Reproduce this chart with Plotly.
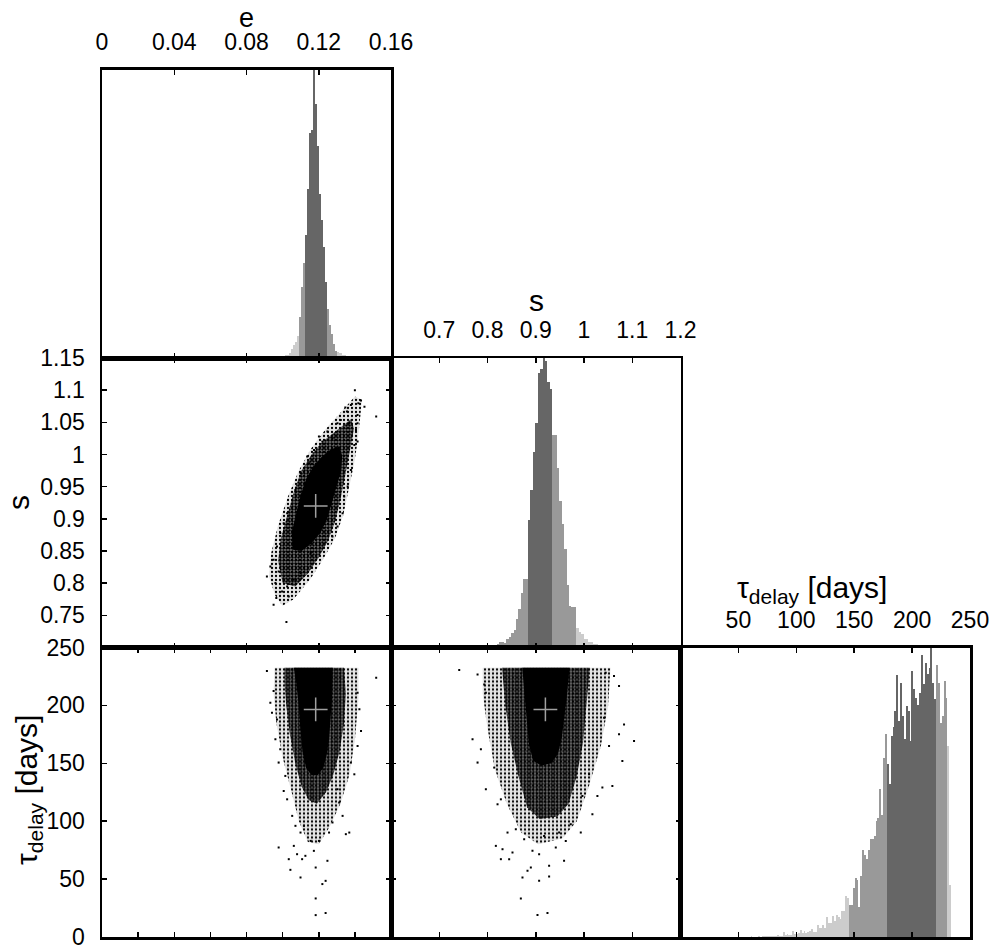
import plotly.graph_objects as go

# ---------------- data ----------------
# e histogram (normalised counts), uniform bins
E_BIN_START = 0.09912
E_BIN_WIDTH = 0.0011158
e_counts = [0.004, 0.008, 0.010, 0.012, 0.018, 0.030, 0.045, 0.055, 0.078,
            0.142, 0.246, 0.329,
            0.425, 0.587, 0.780, 0.790, 1.000, 0.880, 0.734, 0.570, 0.477, 0.385, 0.263,
            0.171, 0.113, 0.084, 0.050, 0.026,
            0.020, 0.016, 0.012, 0.010, 0.008, 0.006, 0.004, 0.003, 0.002]
E_BANDS = [0.10925, 0.11260, 0.12488, 0.13046]

# s histogram
S_BIN_START = 0.799
S_BIN_WIDTH = 0.005
s_counts = [0.008, 0.008, 0.010, 0.010, 0.012, 0.020, 0.020, 0.014, 0.030, 0.037,
            0.050, 0.062, 0.098, 0.132, 0.190, 0.235, 0.235, 0.440, 0.545, 0.674,
            0.775, 0.948, 0.963, 1.000, 0.990, 0.917, 0.894, 0.735, 0.735, 0.619,
            0.507, 0.426, 0.340, 0.217, 0.142, 0.140, 0.140, 0.066, 0.052, 0.046,
            0.029, 0.029, 0.018, 0.018, 0.012, 0.012, 0.008, 0.006, 0.004, 0.003, 0.002]
S_BANDS = [0.79, 0.884, 0.934, 0.984]

# tau_delay histogram
T_BIN_START = 55.575
T_BIN_WIDTH = 1.635
t_counts = [0.001, 0.001, 0.001, 0.002, 0.001, 0.001, 0.001, 0.002, 0.001, 0.002,
            0.002, 0.002, 0.004, 0.002, 0.003, 0.003, 0.004, 0.008, 0.004, 0.004,
            0.017, 0.006, 0.010, 0.008, 0.008, 0.021, 0.010, 0.010, 0.015, 0.025,
            0.015, 0.021, 0.015, 0.019, 0.020, 0.028, 0.019, 0.019, 0.043, 0.031,
            0.031, 0.043, 0.031, 0.068, 0.048, 0.048, 0.072, 0.054, 0.075, 0.069,
            0.062, 0.089, 0.089, 0.143, 0.135, 0.109, 0.109, 0.171, 0.204, 0.198,
            0.103, 0.210, 0.302, 0.283, 0.270, 0.300, 0.340, 0.340, 0.350, 0.400,
            0.410, 0.510, 0.420, 0.620, 0.700,
            0.596, 0.527, 0.696, 0.726, 0.780, 0.904, 0.746, 0.879, 0.763, 0.683,
            0.798, 0.780, 0.677, 0.919, 0.856, 0.827, 0.800, 0.844, 0.973, 0.873,
            0.948, 0.908, 0.930, 1.000, 0.879, 0.821, 0.939, 0.879, 0.740, 0.763,
            0.885, 0.827, 0.660, 0.181]
T_BANDS = [145.6, 178.2, 220.7, 230.5]

# best-fit values (grey crosses)
best_e = [0.1183]
best_s = [0.920]
best_t = [196.5]

# e-s cloud outlines
es_core_e = [0.1058, 0.1050, 0.1075, 0.1103, 0.1132, 0.1170, 0.1218, 0.1268, 0.1312, 0.1330,
             0.1325, 0.1300, 0.1272, 0.1245, 0.1208, 0.1160, 0.1105]
es_core_s = [0.852, 0.8778, 0.9088, 0.9398, 0.9632, 0.9813, 0.9968, 1.008, 1.012, 0.998,
             0.976, 0.9502, 0.9243, 0.8985, 0.8778, 0.8622, 0.8500]
es_inner_e = [0.1000, 0.0975, 0.0990, 0.1030, 0.1065, 0.1105, 0.1160, 0.1220, 0.1290, 0.1340,
              0.1380, 0.1395, 0.1370, 0.1345, 0.1320, 0.1290, 0.1250, 0.1200, 0.1140, 0.1070]
es_inner_s = [0.800, 0.835, 0.870, 0.910, 0.945, 0.975, 1.000, 1.020, 1.035, 1.045,
              1.055, 1.040, 1.000, 0.965, 0.930, 0.895, 0.865, 0.840, 0.815, 0.795]
es_outer_e = [0.0960, 0.0925, 0.0935, 0.0975, 0.1030, 0.1090, 0.1160, 0.1240, 0.1320, 0.1400,
              0.1440, 0.1430, 0.1415, 0.1395, 0.1370, 0.1335, 0.1290, 0.1230, 0.1150, 0.1060, 0.1000]
es_outer_s = [0.780, 0.810, 0.845, 0.890, 0.935, 0.975, 1.010, 1.040, 1.065, 1.090,
              1.085, 1.055, 1.020, 0.985, 0.950, 0.905, 0.870, 0.840, 0.805, 0.775, 0.765]
es_pts_e = [0.1400, 0.1434, 0.1419, 0.1378, 0.1347, 0.1356, 0.1518, 0.1415, 0.1322, 0.1369,
            0.1415, 0.1406, 0.1415, 0.1397, 0.1248, 0.1220, 0.1276, 0.0913, 0.0950, 0.0965,
            0.0997, 0.1025, 0.0960, 0.1021, 0.0932, 0.0978, 0.1006, 0.1034, 0.1062, 0.1099,
            0.0950, 0.0969, 0.1006, 0.1025, 0.1155, 0.1304, 0.1276, 0.1341, 0.1360, 0.1378,
            0.1332, 0.0987, 0.1071, 0.1099, 0.1136, 0.1174, 0.1146, 0.1201, 0.1304, 0.1453]
es_pts_s = [1.100, 1.0838, 1.0796, 1.0770, 1.0729, 1.0667, 1.0589, 1.0615, 1.0537, 1.0486,
            1.0486, 1.0382, 1.0201, 1.0149, 1.0356, 1.0201, 1.0253, 0.8105, 0.7665, 0.7768,
            0.7872, 0.7949, 0.8001, 0.7396, 0.8260, 0.8182, 0.8053, 0.7794, 0.8053, 0.8156,
            0.8364, 0.8570, 0.8933, 0.9088, 0.8467, 0.8881, 0.8726, 0.9347, 0.9502, 0.9761,
            0.9088, 0.8778, 0.9450, 0.9709, 0.9968, 1.0071, 0.9865, 1.0279, 1.0486, 1.0744]

# e-tau cloud outlines
et_core_e = [0.1062, 0.1278, 0.1275, 0.1268, 0.1258, 0.1245, 0.1225, 0.1195, 0.1160, 0.1130,
             0.1110, 0.1098, 0.1088, 0.1075]
et_core_t = [232.5, 232.5, 210, 190, 172, 158, 146, 140, 140, 146, 160, 180, 202, 220]
et_inner_e = [0.1010, 0.1340, 0.1350, 0.1340, 0.1315, 0.1280, 0.1240, 0.1190, 0.1145, 0.1105,
              0.1070, 0.1040, 0.1020, 0.1010]
et_inner_t = [232.5, 232.5, 210, 185, 160, 140, 125, 115, 118, 130, 150, 175, 200, 220]
et_outer_e = [0.0955, 0.1420, 0.1420, 0.1400, 0.1370, 0.1320, 0.1260, 0.1200, 0.1140, 0.1090,
              0.1050, 0.1000, 0.0965, 0.0950]
et_outer_t = [232.5, 232.5, 205, 170, 140, 115, 95, 80, 82, 100, 125, 155, 185, 210]
et_pts_e = [0.0913, 0.1518, 0.0950, 0.0941, 0.0960, 0.0978, 0.1015, 0.1025, 0.1053, 0.1434,
            0.1415, 0.1397, 0.1378, 0.1369, 0.1350, 0.1332, 0.1313, 0.0978, 0.1062, 0.1080,
            0.1034, 0.1126, 0.1173, 0.1248, 0.1108, 0.1183, 0.1043, 0.1099, 0.1238, 0.1220,
            0.1183, 0.1183, 0.1238, 0.1155, 0.1201, 0.1257, 0.1099, 0.1118, 0.1276, 0.1071,
            0.1304, 0.1006, 0.0987, 0.0969, 0.0932, 0.1415, 0.1425]
et_pts_t = [229.6, 223.9, 212.4, 193.7, 170.7, 150.6, 139.1, 118.9, 104.6, 177.9,
            164.9, 140.5, 150.6, 90.2, 88.8, 104.6, 116.1, 77.3, 78.7, 71.5,
            67.2, 70.1, 74.4, 65.8, 67.2, 60.0, 58.0, 51.4, 48.5, 45.7,
            33.3, 18.9, 20.7, 83.0, 83.0, 90.2, 90.2, 96.0, 98.9, 96.0,
            127.6, 126.1, 162.1, 187.9, 202.3, 210.9, 196.6]

# s-tau cloud outlines
st_core_s = [0.872, 0.970, 0.965, 0.959, 0.954, 0.946, 0.932, 0.912, 0.895, 0.886, 0.881, 0.877, 0.874]
st_core_t = [232.5, 232.5, 210, 190, 172, 158, 150, 148, 152, 166, 188, 210, 225]
st_inner_s = [0.830, 1.012, 1.005, 0.998, 0.985, 0.968, 0.945, 0.908, 0.882, 0.864, 0.848, 0.837]
st_inner_t = [232.5, 232.5, 200, 168, 139, 115, 104, 102, 112, 139, 168, 200]
st_outer_s = [0.790, 1.055, 1.050, 1.035, 1.010, 0.985, 0.955, 0.905, 0.870, 0.840, 0.815, 0.800, 0.790]
st_outer_t = [232.5, 232.5, 200, 165, 130, 100, 85, 80, 90, 115, 145, 180, 210]
st_pts_s = [0.7414, 0.7794, 0.7932, 0.7966, 0.7690, 0.7794, 0.7863, 0.7966, 0.8139, 0.8208,
            0.8277, 1.0450, 1.0622, 1.0726, 1.0830, 1.1037, 1.0795, 1.0588, 1.0381, 1.0278,
            1.0726, 1.0519, 1.0416, 0.9933, 0.9622, 0.8173, 0.8311, 0.8277, 0.8449, 0.8518,
            0.8932, 0.9070, 0.9415, 0.9587, 0.8898, 0.9277, 0.8829, 0.8725, 0.9070, 0.9277,
            0.8691, 0.9036, 0.9243, 0.8415, 0.8587, 0.9484, 0.9726, 0.8760, 0.9173, 1.0174,
            1.0105, 0.9967]
st_pts_t = [230.5, 226.7, 218.1, 210.9, 170.7, 150.6, 162.1, 127.6, 146.3, 114.6,
            118.9, 228.2, 225.3, 216.7, 183.6, 169.2, 152.0, 130.4, 129.0, 121.8,
            175.0, 164.9, 189.4, 90.2, 83.0, 78.7, 75.8, 67.2, 67.2, 73.0,
            74.4, 71.5, 77.3, 65.8, 60.0, 61.5, 57.2, 51.4, 48.5, 52.3,
            33.3, 18.9, 20.7, 90.2, 93.1, 90.2, 97.4, 84.5, 87.3, 106.0,
            140.5, 121.8]

# ---------------- styling ----------------
DARK, MED, LIGHT = "#666666", "#999999", "#cccccc"
FONT = "Liberation Sans, Arial, Helvetica, sans-serif"
TICKFONT = dict(family=FONT, size=23, color="black")
W, H = 997, 948

def px_x(v):
    return v / W

def px_y(v):
    return 1 - v / H

def shade(c, bands):
    lo1, lo2, hi2, hi1 = bands
    if lo2 <= c < hi2:
        return DARK
    if lo1 <= c < hi1:
        return MED
    return LIGHT

def hist_trace(start, width, counts, bands, xa, ya):
    centers = [start + (i + 0.5) * width for i in range(len(counts))]
    return go.Bar(x=centers, y=counts, width=width,
                  marker=dict(color=[shade(c, bands) for c in centers], line=dict(width=0)),
                  xaxis=xa, yaxis=ya, showlegend=False, hoverinfo="skip")

def poly(xs, ys, xa, ya, solid=False, bg="rgba(0,0,0,0)", size=4, solidity=0.3):
    kw = dict(x=xs + xs[:1], y=ys + ys[:1], mode="lines", line=dict(width=0),
              fill="toself", xaxis=xa, yaxis=ya, showlegend=False, hoverinfo="skip")
    if solid:
        kw["fillcolor"] = "black"
    else:
        kw["fillcolor"] = bg
        kw["fillpattern"] = dict(shape=".", fgcolor="black", bgcolor=bg,
                                 size=size, solidity=solidity, fillmode="replace")
    return go.Scatter(**kw)

def pts(xs, ys, xa, ya):
    return go.Scatter(x=xs, y=ys, mode="markers", xaxis=xa, yaxis=ya,
                      marker=dict(symbol="square", size=2, color="black", line=dict(width=0)),
                      showlegend=False, hoverinfo="skip")

def cross(xs, ys, xa, ya):
    return go.Scatter(x=xs, y=ys, mode="markers", xaxis=xa, yaxis=ya,
                      marker=dict(symbol="cross-thin-open", size=17, color="#a0a0a0",
                                  line=dict(color="#a0a0a0", width=1.5)),
                      showlegend=False, hoverinfo="skip")

fig = go.Figure()
# histograms
fig.add_trace(hist_trace(E_BIN_START, E_BIN_WIDTH, e_counts, E_BANDS, "x", "y"))
fig.add_trace(hist_trace(S_BIN_START, S_BIN_WIDTH, s_counts, S_BANDS, "x4", "y4"))
fig.add_trace(hist_trace(T_BIN_START, T_BIN_WIDTH, t_counts, T_BANDS, "x6", "y6"))

# clouds
for (ox, oy, ix, iy, cx, cy, px, py, bx, by, xa, ya) in [
    (es_outer_e, es_outer_s, es_inner_e, es_inner_s, es_core_e, es_core_s, es_pts_e, es_pts_s, best_e, best_s, "x2", "y2"),
    (et_outer_e, et_outer_t, et_inner_e, et_inner_t, et_core_e, et_core_t, et_pts_e, et_pts_t, best_e, best_t, "x3", "y3"),
    (st_outer_s, st_outer_t, st_inner_s, st_inner_t, st_core_s, st_core_t, st_pts_s, st_pts_t, best_s, best_t, "x5", "y5"),
]:
    fig.add_trace(poly(ox, oy, xa, ya, bg="rgba(0,0,0,0.10)", size=4, solidity=0.25))
    fig.add_trace(poly(ix, iy, xa, ya, bg="rgba(0,0,0,0.45)", size=3, solidity=0.5))
    fig.add_trace(poly(cx, cy, xa, ya, solid=True))
    fig.add_trace(pts(px, py, xa, ya))
    fig.add_trace(cross(bx, by, xa, ya))

C1 = [px_x(102), px_x(391)]
C2 = [px_x(391), px_x(680.5)]
C3 = [px_x(680.5), px_x(970)]
R1 = [px_y(358), px_y(69.5)]
R2 = [px_y(647.5), px_y(358)]
R3 = [px_y(937), px_y(647.5)]

base = dict(showline=True, linecolor="black", linewidth=2.5, mirror="ticks",
            ticks="inside", ticklen=5, tickwidth=1.5, tickcolor="black",
            showgrid=False, zeroline=False, tickfont=TICKFONT, fixedrange=True,
            automargin=False, ticklabeloverflow="allow")
hist_y = dict(showline=True, linecolor="black", linewidth=2.5, mirror=True,
              ticks="", showticklabels=False, showgrid=False, zeroline=False,
              range=[0, 1.0], fixedrange=True, automargin=False)

e_ticks = [0, 0.04, 0.08, 0.12, 0.16]
e_ticks_fine = [0.02, 0.04, 0.06, 0.08, 0.10, 0.12, 0.14]
s_ticks = [0.7, 0.8, 0.9, 1.0, 1.1, 1.2]
s_yticks = [0.75, 0.8, 0.85, 0.9, 0.95, 1.0, 1.05, 1.1, 1.15]
t_ticks = [0, 50, 100, 150, 200, 250]
t_xticks = [50, 100, 150, 200, 250]

fig.update_layout(
    width=W, height=H, margin=dict(l=0, r=0, t=0, b=0, autoexpand=False),
    paper_bgcolor="white", plot_bgcolor="white", bargap=0, showlegend=False,
    xaxis=dict(base, domain=C1, anchor="y", range=[0, 0.16], side="top",
               tickvals=e_ticks, ticktext=["0", "0.04", "0.08", "0.12", "0.16"], ticklabelstandoff=8),
    yaxis=dict(hist_y, domain=R1, anchor="x"),
    xaxis2=dict(base, domain=C1, anchor="y2", range=[0, 0.16], tickvals=e_ticks, showticklabels=False),
    yaxis2=dict(base, domain=R2, anchor="x2", range=[0.7, 1.15], tickvals=s_yticks,
                ticktext=["0.75", "0.8", "0.85", "0.9", "0.95", "1", "1.05", "1.1", "1.15"],
                ticklabelstandoff=10),
    xaxis3=dict(base, domain=C1, anchor="y3", range=[0, 0.16], tickvals=e_ticks_fine, showticklabels=False),
    yaxis3=dict(base, domain=R3, anchor="x3", range=[0, 250], tickvals=t_ticks, ticklabelstandoff=10),
    xaxis4=dict(base, domain=C2, anchor="y4", range=[0.6, 1.2], side="top", tickvals=s_ticks,
                ticktext=["0.7", "0.8", "0.9", "1", "1.1", "1.2"], ticklabelstandoff=8),
    yaxis4=dict(hist_y, domain=R2, anchor="x4"),
    xaxis5=dict(base, domain=C2, anchor="y5", range=[0.6, 1.2], tickvals=s_ticks, showticklabels=False),
    yaxis5=dict(base, domain=R3, anchor="x5", range=[0, 250], tickvals=t_ticks, showticklabels=False),
    xaxis6=dict(base, domain=C3, anchor="y6", range=[0, 250], side="top", tickvals=t_xticks,
                ticklabelstandoff=8),
    yaxis6=dict(hist_y, domain=R3, anchor="x6"),
)

for txt, x, y, ang, fs in [
    ("e", 246, 17.5, 0, 27),
    ("s", 536, 300, 0, 30),
    ("τ<sub>delay</sub> [days]", 812, 589, 0, 30),
    ("s", 18, 503, -90, 30),
    ("τ<sub>delay</sub> [days]", 28, 790, -90, 30),
]:
    fig.add_annotation(text=txt, x=px_x(x), y=px_y(y), xref="paper", yref="paper",
                       showarrow=False, font=dict(family=FONT, size=fs, color="black"),
                       textangle=ang, xanchor="center", yanchor="middle")

fig.write_html("out.html",
               config={"displayModeBar": False, "staticPlot": True},
               post_script="document.documentElement.style.margin='0';"
                           "document.body.style.margin='0';"
                           "document.body.style.overflow='hidden';")
